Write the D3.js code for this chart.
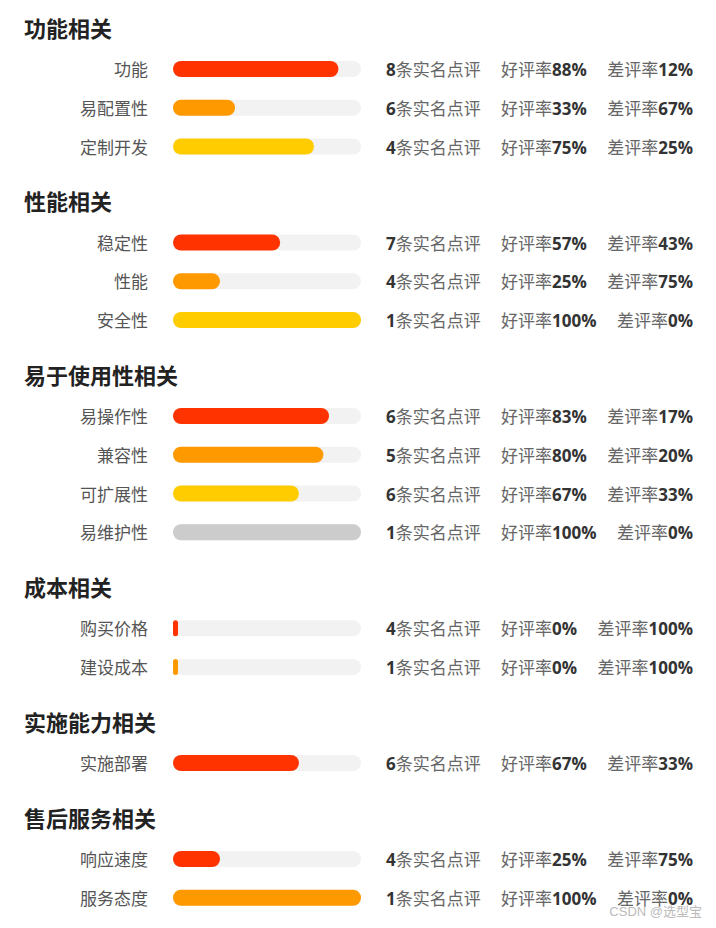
<!DOCTYPE html>
<html>
<head>
<meta charset="utf-8">
<script src="https://cdn.jsdelivr.net/npm/d3@7"></script>
<style>
  body { margin: 0; background: #fff; }
  svg text { font-family: "Open Sans", "Noto Sans CJK SC", sans-serif; }
</style>
</head>
<body>
<div id="chart"></div>
<script>
var groupNames = ['功能相关', '性能相关', '易于使用性相关', '成本相关', '实施能力相关', '售后服务相关'];

var itemGroup = [0, 0, 0, 1, 1, 1, 2, 2, 2, 2, 3, 3, 4, 5, 5];
var itemNames = ['功能', '易配置性', '定制开发', '稳定性', '性能', '安全性',
  '易操作性', '兼容性', '可扩展性', '易维护性', '购买价格', '建设成本',
  '实施部署', '响应速度', '服务态度'];
var reviewCounts = [8, 6, 4, 7, 4, 1, 6, 5, 6, 1, 4, 1, 6, 4, 1];
var goodRates = [88, 33, 75, 57, 25, 100, 83, 80, 67, 100, 0, 0, 67, 25, 100];
var badRates = [12, 67, 25, 43, 75, 0, 17, 20, 33, 0, 100, 100, 33, 75, 0];

var barColors = ['#ff3300', '#ff9900', '#ffcc00', '#cccccc'];

var width = 716,
    height = 928,
    headerTop = 29,
    headerToRow = 41,
    rowStep = 38.75,
    groupGap = 55,
    barX = 173,
    barW = 188,
    barH = 16;

// lay out rows top to bottom
var rows = [], headers = [];
var y = headerTop;
groupNames.forEach(function (g, gi) {
  headers.push({name: g, y: y});
  y += headerToRow;
  var k = 0;
  itemNames.forEach(function (n, i) {
    if (itemGroup[i] !== gi) return;
    rows.push({
      name: n, count: reviewCounts[i], good: goodRates[i], bad: badRates[i],
      color: barColors[k % barColors.length], y: y
    });
    k++;
    y += rowStep;
  });
  y += groupGap - rowStep;
});

var x = d3.scaleLinear().domain([0, 100]).range([0, barW]);

var svg = d3.select('#chart')
  .append('svg')
    .attr('width', width)
    .attr('height', height);

svg.selectAll('text.header')
  .data(headers)
  .enter().append('text')
    .classed('header', true)
    .attr('x', 24)
    .attr('y', function (d) { return d.y; })
    .attr('dy', '0.36em')
    .style('font-size', '22px')
    .style('font-weight', 'bold')
    .style('fill', '#222')
    .text(function (d) { return d.name; });

var row = svg.selectAll('g.row')
  .data(rows)
  .enter().append('g')
    .classed('row', true)
    .attr('transform', function (d) { return 'translate(0,' + d.y + ')'; });

row.append('text')
  .attr('x', 148)
  .attr('dy', '0.36em')
  .attr('text-anchor', 'end')
  .style('font-size', '17px')
  .style('fill', '#555')
  .text(function (d) { return d.name; });

row.append('rect')
  .attr('x', barX)
  .attr('y', -barH / 2 - 1)
  .attr('width', barW)
  .attr('height', barH)
  .attr('rx', barH / 2)
  .style('fill', '#f2f2f2');

row.append('rect')
  .attr('x', barX)
  .attr('y', -barH / 2 - 1)
  .attr('width', function (d) { return Math.max(x(d.good), 5); })
  .attr('height', barH)
  .attr('rx', function (d) { return Math.min(barH / 2, Math.max(x(d.good), 5) / 2); })
  .style('fill', function (d) { return d.color; });

function infoText(sel, xPos, anchor, pre, num, post) {
  var t = sel.append('text')
    .attr('x', xPos)
    .attr('dy', '0.36em')
    .attr('text-anchor', anchor)
    .style('font-size', '17px')
    .style('fill', '#666');
  if (pre) t.append('tspan').text(pre);
  t.append('tspan')
    .style('font-weight', 'bold')
    .style('fill', '#333')
    .text(num);
  if (post) t.append('tspan').text(post);
}

row.each(function (d) {
  var g = d3.select(this);
  infoText(g, 386, 'start', null, d.count, '条实名点评');
  infoText(g, 501, 'start', '好评率', d.good + '%', null);
  infoText(g, 693, 'end', '差评率', d.bad + '%', null);
});

// watermark, sits over the last row as in the source image
svg.append('text')
  .attr('x', 702)
  .attr('y', 916)
  .attr('text-anchor', 'end')
  .style('font-family', '"Liberation Sans", "Noto Sans CJK SC", sans-serif')
  .style('font-size', '13px')
  .style('fill', '#bbb')
  .text('CSDN @选型宝');
</script>
</body>
</html>
